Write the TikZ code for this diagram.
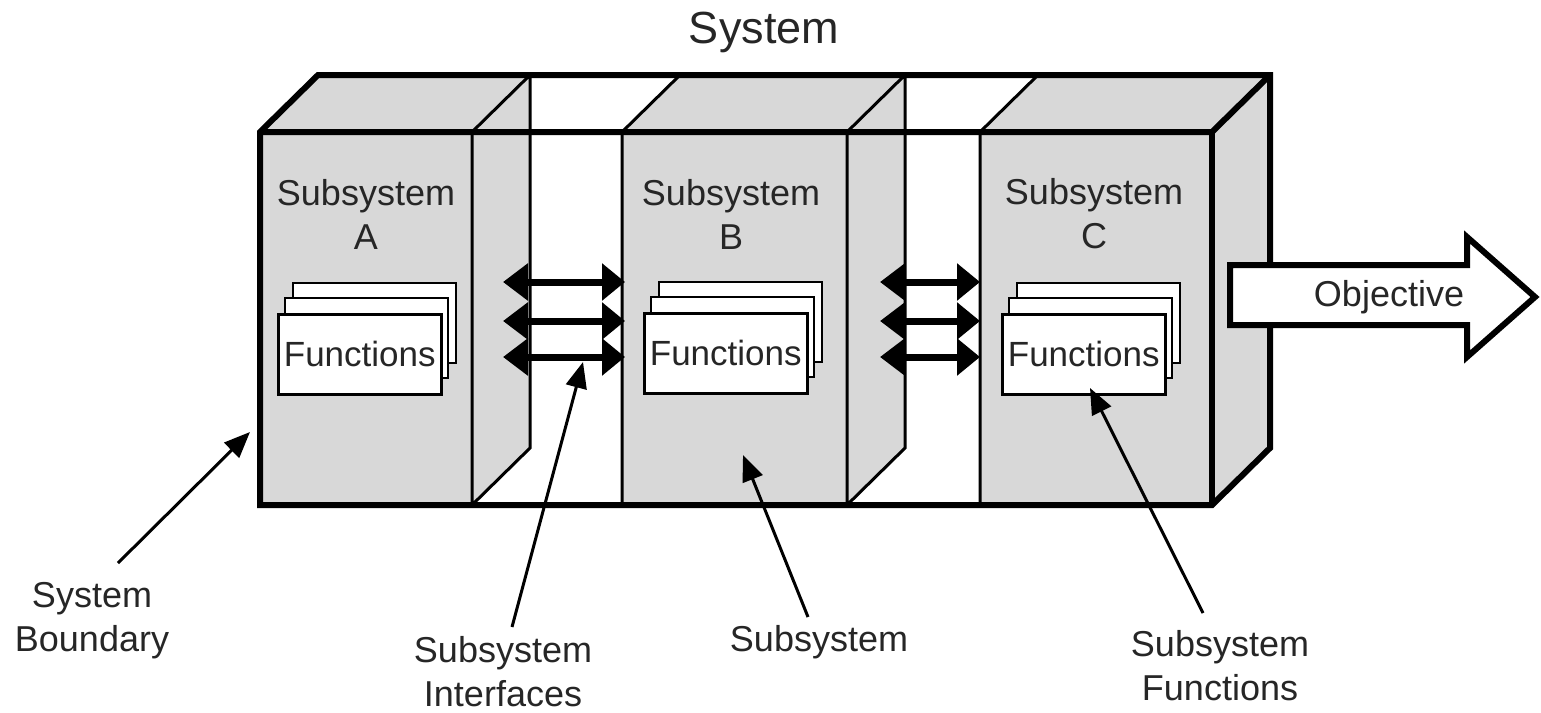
\documentclass[tikz,border=0pt]{standalone}
\usepackage{fontspec}
\setmainfont{Liberation Sans}
\usetikzlibrary{arrows.meta}
\definecolor{boxgray}{RGB}{216,216,216}
\newcommand\fstack[3]{%
  \draw[fbox] (#1+16,#2-30) rectangle ++(163,80);
  \draw[fbox] (#1+8,#2-15) rectangle ++(163,80);
  \node[fbox, font=\fontsize{35}{42}\selectfont, text=black!85, minimum width=163pt, minimum height=80pt, anchor=north west, inner sep=0pt] (#3) at (#1,#2) {Functions};
}
\begin{document}
\begin{tikzpicture}[x=1pt,y=-1pt,
  thinline/.style={line width=3pt, line join=miter},
  thickline/.style={line width=6pt, line join=miter},
  fbox/.style={draw, fill=white, line width=2.5pt},
  lbl/.style={font=\fontsize{36}{44}\selectfont, align=center, inner sep=0pt, text=black!85},
  dbl/.style={line width=7pt, {Triangle[length=25pt,width=36pt]}-{Triangle[length=23pt,width=36pt]}},
  ptr/.style={line width=3pt, -{Triangle[length=26pt,width=21pt]}}]
\useasboundingbox (0,0) rectangle (1541,712);
% body
\fill[boxgray] (260,132) -- (318,75) -- (1270,75) -- (1270,448) -- (1212,505) -- (260,505) -- cycle;
\fill[white] (530,75) -- (680,75) -- (622,132) -- (622,505) -- (472,505) -- (530,448) -- cycle;
\fill[white] (905,75) -- (1038,75) -- (980,132) -- (980,505) -- (847,505) -- (905,448) -- cycle;
% thin edges
\draw[thinline] (472,132) -- (472,505) (472,132) -- (530,75) (530,75) -- (530,448) -- (472,505);
\draw[thinline] (622,132) -- (622,505) (622,132) -- (680,75);
\draw[thinline] (847,132) -- (847,505) (847,132) -- (905,75) (905,75) -- (905,448) -- (847,505);
\draw[thinline] (980,132) -- (980,505) (980,132) -- (1038,75);
% thick outline
\draw[thickline] (260,132) -- (318,75) -- (1270,75) -- (1270,448) -- (1212,505) -- (260,505) -- cycle;
\draw[thickline] (260,132) -- (1212,132) -- (1270,75);
\draw[thickline] (1212,132) -- (1212,505);
% title
\node[lbl, font=\fontsize{45}{54}\selectfont] (title) at (764,32) {System};
% subsystem labels
\node[lbl] (sa) at (366,214) {Subsystem\\A};
\node[lbl] (sb) at (731,214) {Subsystem\\B};
\node[lbl] (sc) at (1094,214) {Subsystem\\C};
% function stacks
\fstack{277}{313}{fa}
\fstack{643}{312}{fb}
\fstack{1001}{313}{fc}
% interface arrows
\coordinate (ab1) at (503,282); \coordinate (ab1e) at (625,282);
\coordinate (ab2) at (503,321); \coordinate (ab2e) at (625,321);
\coordinate (ab3) at (503,357); \coordinate (ab3e) at (625,357);
\coordinate (bc1) at (880,282); \coordinate (bc1e) at (980,282);
\coordinate (bc2) at (880,321); \coordinate (bc2e) at (980,321);
\coordinate (bc3) at (880,357); \coordinate (bc3e) at (980,357);
\foreach \a/\b in {ab1/ab1e,ab2/ab2e,ab3/ab3e,bc1/bc1e,bc2/bc2e,bc3/bc3e}
  \draw[dbl] (\a) -- (\b);
% objective arrow
\draw[thickline, fill=white] (1230,265) -- (1467,265) -- (1467,237) -- (1535,297) -- (1467,357) -- (1467,325) -- (1230,325) -- cycle;
\node[lbl] (obj) at (1389,297) {Objective};
% bottom labels
\node[lbl] (lsb) at (92,621) {System\\Boundary};
\node[lbl] (lsi) at (503,672) {Subsystem\\Interfaces};
\node[lbl] (lss) at (819,642) {Subsystem};
\node[lbl] (lsf) at (1220,666) {Subsystem\\Functions};
% pointer arrows
\coordinate (p1t) at (118,563); \coordinate (p1h) at (250,432);
\coordinate (p2t) at (512,627); \coordinate (p2h) at (583,362);
\coordinate (p3t) at (808,617); \coordinate (p3h) at (743,455);
\coordinate (p4t) at (1203,613); \coordinate (p4h) at (1090,388);
\draw[ptr] (p1t) -- (p1h);
\draw[ptr] (p2t) -- (p2h);
\draw[ptr] (p3t) -- (p3h);
\draw[ptr] (p4t) -- (p4h);
\end{tikzpicture}
\end{document}
